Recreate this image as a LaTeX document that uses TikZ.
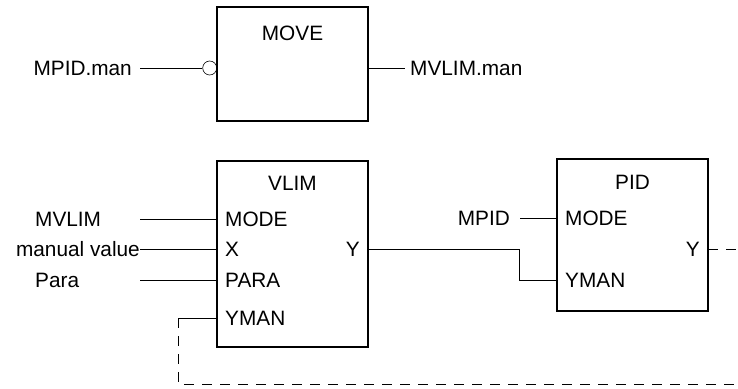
\documentclass[tikz,border=0pt]{standalone}
\usepackage{fontspec}
\setmainfont{Liberation Sans}
\usetikzlibrary{positioning}

\begin{document}
\begin{tikzpicture}[
  x=1pt, y=-1pt,
  every node/.style={font=\fontsize{20.8}{25}\selectfont, inner sep=0pt, text height=14.9pt, text depth=0pt},
  fblock/.style={draw, line width=2pt, minimum width=151pt, text height=0pt},
  pinl/.style={anchor=west, inner xsep=8pt},
  pinr/.style={anchor=east, inner xsep=8pt},
  neg/.style={circle, draw, line width=0.6pt, text height=0pt, minimum size=14pt},
  wire/.style={draw, line width=0.8pt},
  feedback/.style={wire, dash pattern=on 10pt off 8pt}
]
\useasboundingbox (0,0) rectangle (738,388);

% MOVE block
\node[fblock, minimum height=114pt] (move) at (292.5,64) {};
\node (movet) at (292.5,33) {MOVE};
\node[neg, anchor=east] (negin) at (217,68) {};
\node[anchor=east] (mpidman) at (132,68) {MPID.man};
\node[anchor=west] (mvlimman) at (410,68) {MVLIM.man};
\draw[wire] ([xshift=8pt]mpidman.east) -- (negin.west);
\draw[wire] (move.east |- mvlimman.west) -- ([xshift=-5pt]mvlimman.west);

% VLIM block
\node[fblock, minimum height=186pt] (vlim) at (292.5,254) {};
\node (vlimt) at (292.5,183) {VLIM};
\node[pinl] (vmode) at (217,219) {MODE};
\node[pinl] (vx) at (217,249) {X};
\node[pinl] (vpara) at (217,280) {PARA};
\node[pinl] (vyman) at (217,318) {YMAN};
\node[pinr] (vy) at (368,249) {Y};
\node[anchor=west] (mvlim) at (35,219) {MVLIM};
\node[anchor=east] (manval) at (140,249) {manual value};
\node[anchor=west] (para) at (35,280) {Para};
\draw[wire] (vmode.west -| manval.east) -- (vmode.west);
\draw[wire] (manval.east) -- (vx.west);
\draw[wire] (vpara.west -| manval.east) -- (vpara.west);

% PID block
\node[fblock, minimum height=152pt] (pid) at (632.5,235) {};
\node (pidt) at (632.5,182) {PID};
\node[pinl] (pmode) at (557,218) {MODE};
\node[pinl] (pyman) at (557,280) {YMAN};
\node[pinr] (py) at (708,249) {Y};
\node[anchor=east] (mpid) at (510,218) {MPID};
\draw[wire] ([xshift=10pt]mpid.east) -- (pmode.west);

% VLIM -> PID
\coordinate (ybend) at (519,249);
\draw[wire] (vy.east) -- (ybend) |- (pyman.west);

% feedback loop
\coordinate (pidout) at (738,249);
\coordinate (loopc) at (178,318);
\coordinate (loopl) at (178,384);
\coordinate (loopr) at (738,384);
\draw[feedback] (py.east) -- (pidout);
\draw[wire] (vyman.west) -- (loopc);
\draw[feedback] (loopc) -- (loopl) -- (loopr);
\end{tikzpicture}
\end{document}
